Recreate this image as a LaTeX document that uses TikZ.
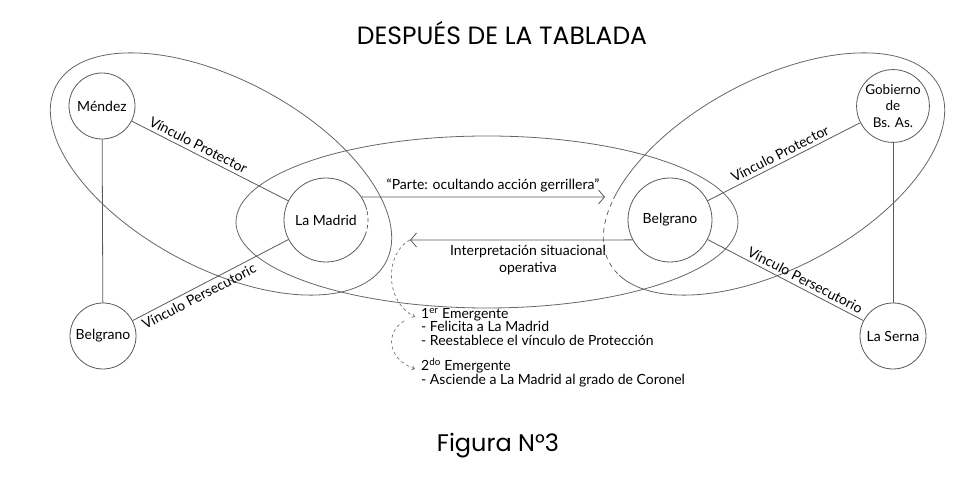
\documentclass[tikz,border=0pt]{standalone}
\usepackage{fontspec}
\setmainfont{Lato}
\newfontfamily\titlefont{Poppins}
\usetikzlibrary{shapes,arrows,arrows.meta}

\begin{document}
\begin{tikzpicture}[auto,x=1pt,y=1pt]
	\tikzset{align=center,font=\fontsize{14}{16}\selectfont}
	
	\tikzset{vertex/.style = {shape=circle,draw=black!65,line width=0.8pt,inner sep=1pt}}
	
	\tikzset{bigvertex/.style = {vertex,minimum size=84pt}}
	
	\tikzset{smallvertex/.style = {vertex,minimum size=66pt}}
	
	\tikzset{zone/.style = {draw=black!60,line width=0.8pt}}
	
	\tikzset{edge/.style = {draw=black!65,line width=0.8pt}}
	
	\tikzset{msg/.style = {edge,-{Straight Barb[length=6pt,width=14pt]}}}
	
	\tikzset{emerg/.style = {draw=black!55,dashed,line width=0.7pt,-{Straight Barb[length=2.5pt,width=4pt]}}}
	
	\tikzset{emtext/.style = {anchor=north west,align=left,inner sep=0pt,font=\fontsize{14}{13.5}\selectfont}}
	
	\useasboundingbox (0,0) rectangle (980,478);
	
	% titles
	\node[font=\titlefont\fontsize{25}{28}\selectfont] (title) at (502,445) {DESPUÉS DE LA TABLADA};
	\node[font=\titlefont\fontsize{24}{26}\selectfont] (fig) at (498,32) {Figura N°3};
	
	% zones
	\draw[zone,rotate around={-28.2:(221,304)}] (221,304) ellipse [x radius=187pt,y radius=94pt];
	\draw[zone,rotate around={28.2:(774,304)}] (774,304) ellipse [x radius=187pt,y radius=94pt];
	\draw[zone] (487,256) ellipse [x radius=251pt,y radius=86pt];
	
	% vertices
	\node[smallvertex] (mendez) at (102,372) {Méndez};
	
	\node[smallvertex] (belgrano1) at (103,142) {Belgrano};
	
	\node[bigvertex] (lamadrid) at (326,258) {La Madrid};
	
	\node[bigvertex] (belgrano2) at (670,258) {Belgrano};
	
	\node[smallvertex,font=\fontsize{13.5}{16.5}\selectfont] (gobierno) at (893,372) {Gobierno\\de\\Bs. As.};
	
	\node[smallvertex] (serna) at (893,142) {La Serna};
	
	% broken borders
	\draw[white,line width=2.4pt,dash pattern=on 3pt off 4pt] (lamadrid.-16) arc[start angle=-16,end angle=14,radius=42.4pt];
	\begin{scope}
	\clip (590,203) rectangle (620,278);
	\draw[white,line width=2.6pt,dash pattern=on 4pt off 5pt,rotate around={28.2:(774,304)}] (774,304) ellipse [x radius=187pt,y radius=94pt];
	\end{scope}
	
	%edges
	\begin{scope}[every edge/.style={edge}]
	\draw (mendez) edge node[sloped,above,pos=0.4] {Vínculo Protector} (lamadrid);
	\draw (belgrano1) edge node[sloped,below,pos=0.4] {Vínculo Persecutoric} (lamadrid);
	\draw (belgrano2) edge node[sloped,above,pos=0.5] {Vínculo Protector} (gobierno);
	\draw (belgrano2) edge node[sloped,above,pos=0.6] {Vínculo Persecutorio} (serna);
	\draw (mendez) edge (belgrano1);
	\draw (gobierno) edge (serna);
	\end{scope}
	
	% messages
	\coordinate (tip1) at (605,281);
	\coordinate (tip2) at (410,238);
	\draw[msg] (lamadrid.33) -- node[above=1pt,pos=0.54] {“Parte: ocultando acción gerrillera”} (tip1);
	\draw[msg] (belgrano2.208) -- node[below=2pt,pos=0.47,font=\fontsize{14}{17}\selectfont] {Interpretación situacional\\operativa} (tip2);
	
	% emergentes
	\coordinate (e1) at (415,161);
	\coordinate (s2) at (404,157);
	\coordinate (e2) at (415,109);
	\draw[emerg] (tip2) .. controls (386,226) and (383,178) .. (e1);
	\draw[emerg] (s2) .. controls (386,146) and (386,120) .. (e2);
	
	\node[emtext] (em1) at (421,170) {1\textsuperscript{er} Emergente\\- Felicita a La Madrid\\- Reestablece el vínculo de Protección};
	\node[emtext] (em2) at (421,120) {2\textsuperscript{do} Emergente\\- Asciende a La Madrid al grado de Coronel};
\end{tikzpicture}
\end{document}
